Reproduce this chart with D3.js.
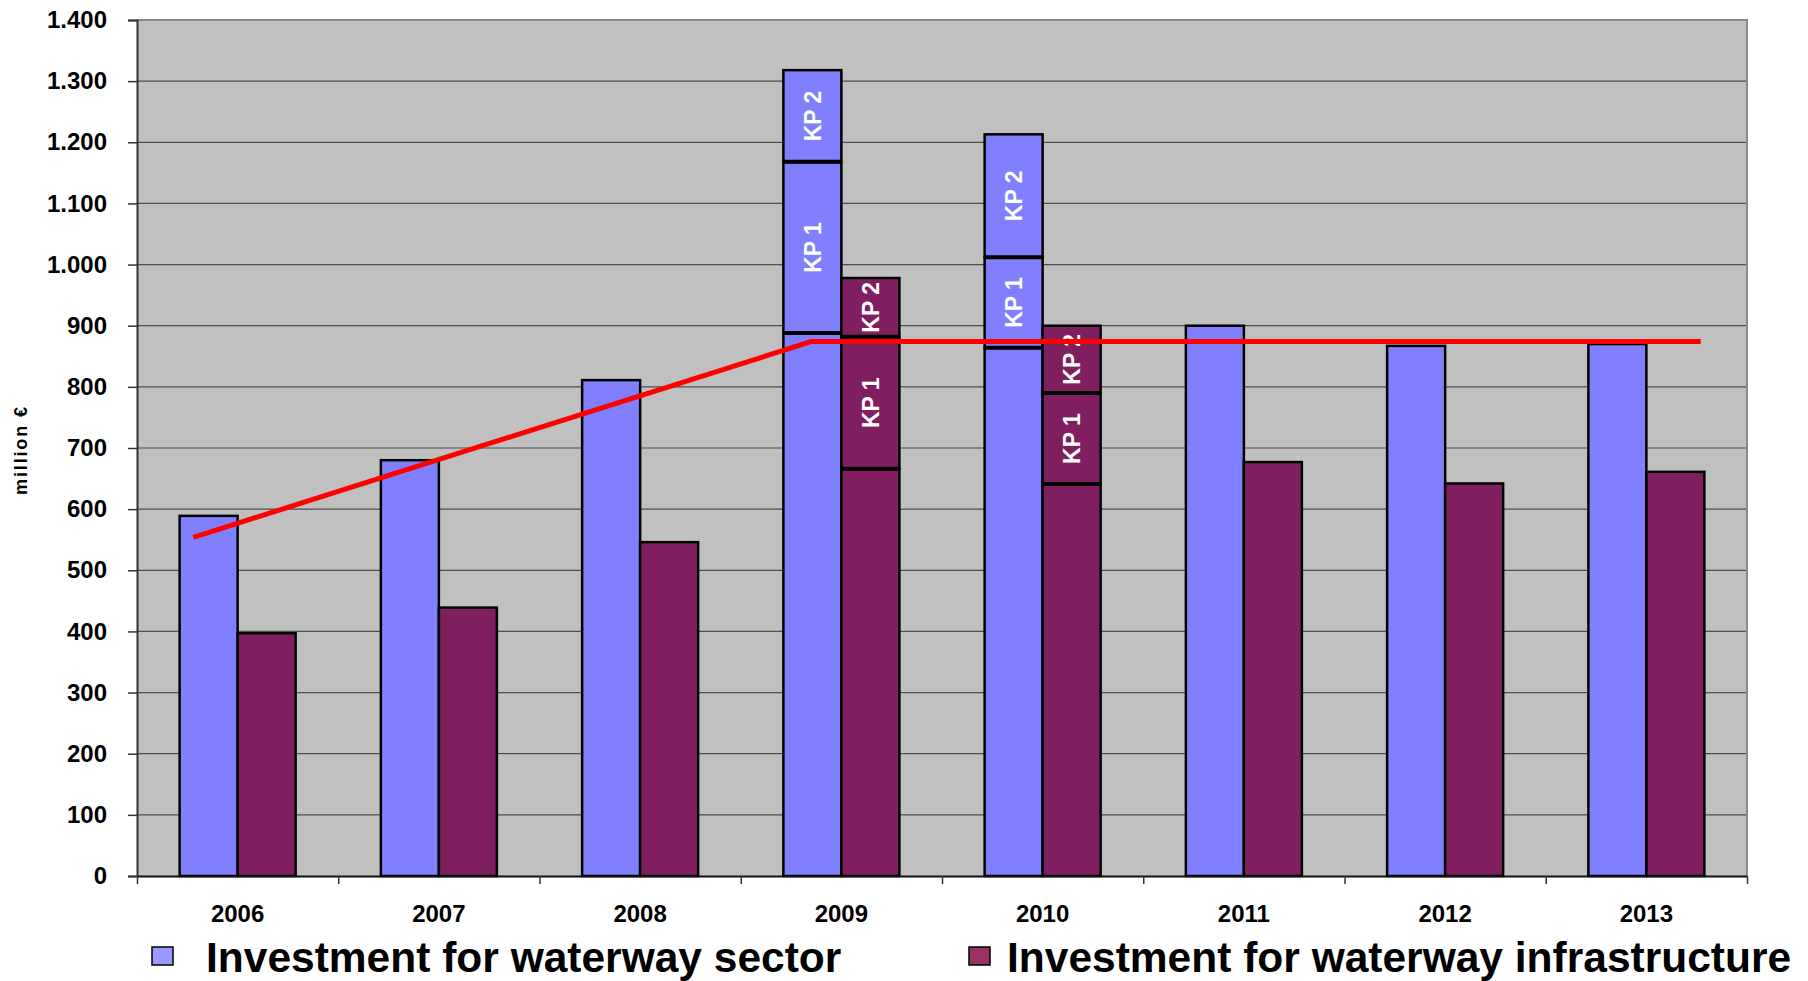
<!DOCTYPE html>
<html>
<head>
<meta charset="utf-8">
<script src="https://cdn.jsdelivr.net/npm/d3@7/dist/d3.min.js"></script>
<style>
  html, body { margin: 0; padding: 0; background: #fff; }
  svg { display: block; font-family: "Liberation Sans", Arial, sans-serif; font-weight: bold; }
</style>
</head>
<body>
<div id="chart"></div>
<script>
// values (million €)
const years = ["2006", "2007", "2008", "2009", "2010", "2011", "2012", "2013"];
const sectorBase = [589, 680, 811, 888, 864, 900, 867, 870];
const sectorKP1  = [0, 0, 0, 280, 148, 0, 0, 0];
const sectorKP2  = [0, 0, 0, 150, 201, 0, 0, 0];
const infraBase  = [397, 439, 546, 666, 641, 677, 642, 661];
const infraKP1   = [0, 0, 0, 216, 149, 0, 0, 0];
const infraKP2   = [0, 0, 0, 96, 110, 0, 0, 0];
const lineYears  = [2005.78, 2008.85, 2013.27];
const lineValues = [554, 874, 874];
const yTicks = [0, 100, 200, 300, 400, 500, 600, 700, 800, 900, 1000, 1100, 1200, 1300, 1400];
const legendLabels = ["Investment for waterway sector", "Investment for waterway infrastructure"];

const width = 1808, height = 981;
const plot = { left: 137, right: 1747, top: 20, bottom: 876 };

const svg = d3.select("#chart").append("svg")
  .attr("width", width)
  .attr("height", height);

const x0 = d3.scaleBand().domain(years).range([plot.left, plot.right]).padding(0);
const x1 = d3.scaleBand().domain(["sector", "infra"]).range([0, x0.bandwidth()])
  .paddingInner(0).paddingOuter(0.735);
const y = d3.scaleLinear().domain([0, 1400]).range([plot.bottom, plot.top]);
const xLine = d3.scaleLinear().domain([2006, 2013])
  .range([x0("2006") + x0.bandwidth() / 2, x0("2013") + x0.bandwidth() / 2]);

const fmt = d3.formatLocale({ decimal: ",", thousands: ".", grouping: [3], currency: ["", "€"] }).format(",");

// plot area
svg.append("rect")
  .attr("x", plot.left).attr("y", plot.top)
  .attr("width", plot.right - plot.left).attr("height", plot.bottom - plot.top)
  .attr("fill", "#c0c0c0");

// gridlines
svg.append("g").selectAll("line")
  .data(yTicks.filter(d => d > 0 && d < 1400))
  .join("line")
  .attr("x1", plot.left).attr("x2", plot.right)
  .attr("y1", d => y(d)).attr("y2", d => y(d))
  .attr("stroke", "#4d4d4d").attr("stroke-width", 1.2);

// plot border top/right
svg.append("path")
  .attr("d", "M" + plot.left + "," + plot.top + "H" + plot.right + "V" + plot.bottom)
  .attr("fill", "none").attr("stroke", "#8a8a8a").attr("stroke-width", 2);

// stacked bars
const stack = d3.stack().keys(["base", "kp1", "kp2"]);
const seriesData = {
  sector: years.map((yr, i) => ({ year: yr, base: sectorBase[i], kp1: sectorKP1[i], kp2: sectorKP2[i] })),
  infra: years.map((yr, i) => ({ year: yr, base: infraBase[i], kp1: infraKP1[i], kp2: infraKP2[i] }))
};
const colors = { sector: "#8080ff", infra: "#7f1f5f" };
const segLabel = { kp1: "KP 1", kp2: "KP 2" };

["sector", "infra"].forEach(s => {
  const layers = stack(seriesData[s]);
  const g = svg.append("g");
  layers.forEach(layer => {
    const segs = layer.filter(d => d[1] - d[0] > 0);
    g.selectAll(null)
      .data(segs)
      .join("rect")
      .attr("x", d => x0(d.data.year) + x1(s))
      .attr("width", x1.bandwidth())
      .attr("y", d => y(d[1]))
      .attr("height", d => y(d[0]) - y(d[1]))
      .attr("fill", colors[s])
      .attr("stroke", "#000")
      .attr("stroke-width", 2.5);
    if (layer.key !== "base") {
      // thick divider where the segment sits on the one below
      g.selectAll(null)
        .data(segs)
        .join("line")
        .attr("x1", d => x0(d.data.year) + x1(s))
        .attr("x2", d => x0(d.data.year) + x1(s) + x1.bandwidth())
        .attr("y1", d => y(d[0]))
        .attr("y2", d => y(d[0]))
        .attr("stroke", "#000")
        .attr("stroke-width", 4);
      g.selectAll(null)
        .data(segs)
        .join("text")
        .attr("transform", d => {
          const cx = x0(d.data.year) + x1(s) + x1.bandwidth() / 2;
          const cy = (y(d[0]) + y(d[1])) / 2;
          return "translate(" + cx + "," + cy + ") rotate(-90)";
        })
        .attr("text-anchor", "middle")
        .attr("dy", "0.36em")
        .attr("fill", "#fff")
        .attr("font-size", 23)
        .text(segLabel[layer.key]);
    }
  });
});

// red line
svg.append("path")
  .datum(lineYears.map((yr, i) => [yr, lineValues[i]]))
  .attr("d", d3.line().x(d => xLine(d[0])).y(d => y(d[1])))
  .attr("fill", "none")
  .attr("stroke", "#ff0000")
  .attr("stroke-width", 5);

// y axis
const yAxis = svg.append("g")
  .attr("transform", "translate(" + plot.left + ",0)")
  .call(d3.axisLeft(y).tickValues(yTicks).tickSize(9).tickPadding(21).tickFormat(fmt));
yAxis.select(".domain").attr("stroke", "#333").attr("stroke-width", 2);
yAxis.selectAll(".tick line").attr("stroke", "#333").attr("stroke-width", 1.5);
yAxis.selectAll(".tick text")
  .attr("font-size", 24).attr("font-weight", "bold")
  .attr("font-family", "'Liberation Sans', Arial, sans-serif")
  .attr("fill", "#000");

// x axis: boundary ticks
const xIdx = d3.scaleLinear().domain([0, years.length]).range([plot.left, plot.right]);
const xAxis = svg.append("g")
  .attr("transform", "translate(0," + plot.bottom + ")")
  .call(d3.axisBottom(xIdx).tickValues(d3.range(0, years.length + 1)).tickSize(8).tickSizeOuter(0).tickFormat(""));
xAxis.select(".domain").attr("stroke", "#111").attr("stroke-width", 2);
xAxis.selectAll(".tick line").attr("stroke", "#333").attr("stroke-width", 1.5);

// x labels
svg.append("g").selectAll("text")
  .data(years)
  .join("text")
  .attr("x", d => x0(d) + x0.bandwidth() / 2)
  .attr("y", 922)
  .attr("text-anchor", "middle")
  .attr("font-size", 24)
  .text(d => d);

// y axis title
svg.append("text")
  .attr("transform", "translate(27,451) rotate(-90)")
  .attr("text-anchor", "middle")
  .attr("font-size", 18)
  .attr("textLength", 88)
  .attr("lengthAdjust", "spacing")
  .text("million €");

// legend
const legend = [
  { label: legendLabels[0], swatch: "#9999ff", sx: 152, tx: 206 },
  { label: legendLabels[1], swatch: "#993366", sx: 969, tx: 1007 }
];
const lg = svg.append("g").selectAll("g").data(legend).join("g");
lg.append("rect")
  .attr("x", d => d.sx).attr("y", 947)
  .attr("width", 21).attr("height", 18)
  .attr("fill", d => d.swatch)
  .attr("stroke", "#000").attr("stroke-width", 1.5);
lg.append("text")
  .attr("x", d => d.tx).attr("y", 972)
  .attr("font-size", 42.5)
  .text(d => d.label);
</script>
</body>
</html>
